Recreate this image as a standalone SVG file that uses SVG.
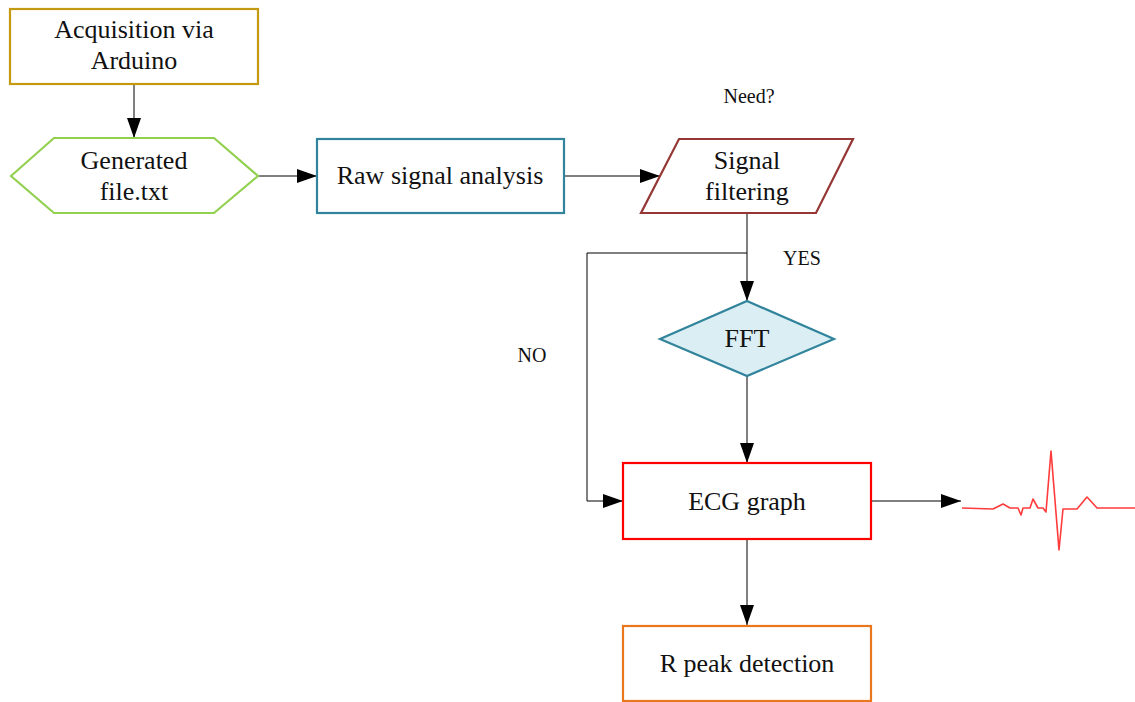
<svg xmlns="http://www.w3.org/2000/svg" width="1135" height="702" viewBox="0 0 1135 702">
  <defs>
    <marker id="arrow" markerWidth="20" markerHeight="14" refX="20" refY="7" orient="auto" markerUnits="userSpaceOnUse">
      <path d="M0,0 L20,7 L0,14 Z" fill="#000"/>
    </marker>
    <style>
      .lbl { font-family: "Liberation Serif", "Times New Roman", serif; font-size: 26px; fill: #111; text-anchor: middle; }
      .small { font-family: "Liberation Serif", "Times New Roman", serif; font-size: 20px; fill: #111; text-anchor: middle; }
      .conn { fill: none; stroke: #000; stroke-width: 1; }
      .shape { fill: #fff; stroke-width: 2.2; }
    </style>
  </defs>
  <rect width="1135" height="702" fill="#fff"/>

  <!-- connectors -->
  <g id="connectors">
    <path class="conn" d="M134,84 V138" marker-end="url(#arrow)"/>
    <path class="conn" d="M258,176 H317" marker-end="url(#arrow)"/>
    <path class="conn" d="M564,176 H660" marker-end="url(#arrow)"/>
    <path class="conn" d="M747,213 V301" marker-end="url(#arrow)"/>
    <path class="conn" d="M747,253 H587 V501 H623" marker-end="url(#arrow)"/>
    <path class="conn" d="M747,376 V463" marker-end="url(#arrow)"/>
    <path class="conn" d="M871,501 H961" marker-end="url(#arrow)"/>
    <path class="conn" d="M747,539 V625" marker-end="url(#arrow)"/>
  </g>

  <g id="acquisition">
    <rect class="shape" x="10" y="9" width="248" height="75" stroke="#C49A12"/>
    <text class="lbl" x="134" y="38">Acquisition via</text>
    <text class="lbl" x="134" y="69">Arduino</text>
  </g>

  <g id="generated-file">
    <polygon class="shape" points="11,176 54,138 214,138 258,176 214,213 54,213" stroke="#92D050"/>
    <text class="lbl" x="134" y="169">Generated</text>
    <text class="lbl" x="134" y="200">file.txt</text>
  </g>

  <g id="raw-signal">
    <rect class="shape" x="317" y="139" width="247" height="74" stroke="#31849B"/>
    <text class="lbl" x="440" y="184">Raw signal analysis</text>
  </g>

  <g id="signal-filtering">
    <polygon class="shape" points="679,139 853,139 816,213 641,213" stroke="#953735"/>
    <text class="lbl" x="747" y="169">Signal</text>
    <text class="lbl" x="747" y="200">filtering</text>
  </g>

  <g id="need-label">
    <text class="small" x="749" y="103">Need?</text>
  </g>
  <g id="yes-label">
    <text class="small" x="802" y="265">YES</text>
  </g>
  <g id="no-label">
    <text class="small" x="532" y="362">NO</text>
  </g>

  <g id="fft">
    <polygon points="747,301 834,339 747,376 660,339" fill="#DAEEF3" stroke="#31849B" stroke-width="2.2"/>
    <text class="lbl" x="747" y="347">FFT</text>
  </g>

  <g id="ecg-graph">
    <rect class="shape" x="623" y="463" width="248" height="76" stroke="#FF0000"/>
    <text class="lbl" x="747" y="510">ECG graph</text>
  </g>

  <g id="ecg-wave">
    <polyline fill="none" stroke="#FF3B3B" stroke-width="1.6" stroke-linejoin="round"
      points="962,508 993,509 1003,504 1010,508 1018,508 1021,515 1023,508 1030,508 1033,499 1038,508 1043,508 1046,512 1051,451 1059,550 1063,509 1077,509 1087,497 1097,508 1135,508"/>
  </g>

  <g id="r-peak">
    <rect class="shape" x="623" y="626" width="248" height="75" stroke="#E8771E"/>
    <text class="lbl" x="747" y="672">R peak detection</text>
  </g>
</svg>
